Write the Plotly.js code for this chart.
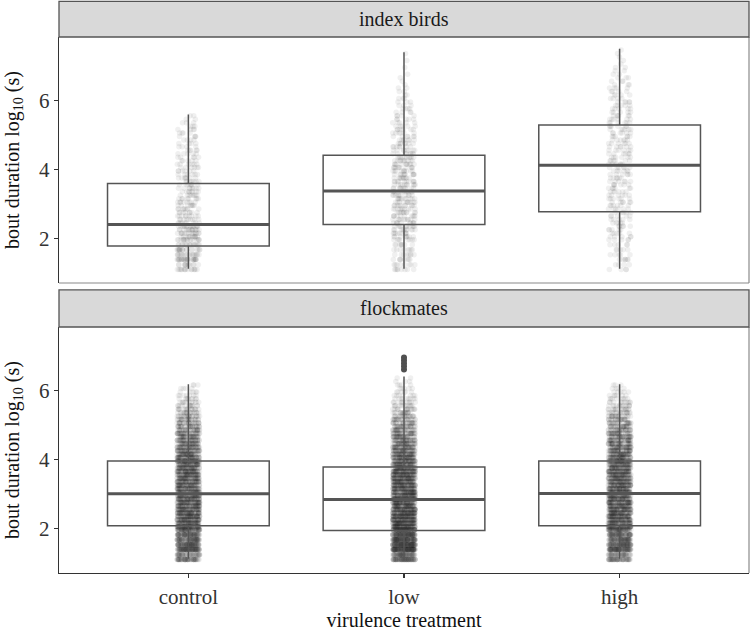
<!DOCTYPE html>
<html>
<head>
<meta charset="utf-8">
<script src="https://cdn.plot.ly/plotly-3.0.1.min.js"></script>
<style>html,body{margin:0;padding:0;background:#fff;}#chart{width:750px;height:631px;}</style>
</head>
<body>
<div id="chart"></div>
<script>
// categories
const CATS = ['control', 'low', 'high'];
const PANELS = ['index birds', 'flockmates'];

// box statistics
const IDX_Q1  = [1.78, 2.40, 2.77];
const IDX_MED = [2.40, 3.37, 4.12];
const IDX_Q3  = [3.59, 4.41, 5.28];
const IDX_LO  = [1.12, 1.12, 1.12];
const IDX_HI  = [5.59, 7.39, 7.49];

const FLK_Q1  = [2.08, 1.94, 2.08];
const FLK_MED = [3.00, 2.84, 3.01];
const FLK_Q3  = [3.95, 3.78, 3.95];
const FLK_LO  = [1.12, 1.12, 1.12];
const FLK_HI  = [6.17, 6.40, 6.17];

const FLK_LOW_OUTLIERS = [6.60, 6.69, 6.78, 6.87, 6.95];

// value levels of the raw observations and estimated counts at each level
const LEVELS = [1.10, 1.24, 1.39, 1.53, 1.67, 1.82, 1.96, 2.05, 2.15, 2.25,
                2.35, 2.45, 2.55, 2.65, 2.75, 2.85, 2.95, 3.05, 3.15, 3.25,
                3.35, 3.45, 3.55, 3.65, 3.75, 3.85, 3.95, 4.05, 4.15, 4.25,
                4.35, 4.45, 4.55, 4.65, 4.75, 4.85, 4.95, 5.05, 5.15, 5.25,
                5.35, 5.45, 5.55, 5.65, 5.75, 5.85, 5.95, 6.05, 6.15, 6.25,
                6.35, 6.45, 6.55, 6.65, 6.75, 6.85, 6.95, 7.05, 7.15, 7.25,
                7.35, 7.45];

const IDX_CONTROL_N = [15,12,25,18,18,16,16,12,14,14,
                       14,9,9,9,8,8,8,8,8,8,
                       8,8,7,7,7,6,6,6,6,5,
                       5,5,5,4,4,4,4,4,4,3,
                       3,2,2,0,0,0,0,0,0,0,
                       0,0,0,0,0,0,0,0,0,0,
                       0,0];
const IDX_LOW_N = [8,8,8,8,8,8,8,8,9,10,
                   10,10,10,10,10,10,10,10,10,10,
                   10,10,10,10,10,10,10,10,10,10,
                   10,8,8,7,7,7,6,6,6,5,
                   5,5,4,4,4,3,3,3,2,2,
                   2,1,1,1,1,0,1,0,1,0,
                   1,0];
const IDX_HIGH_N = [4,4,6,5,5,5,5,5,5,5,
                    5,5,5,5,5,6,6,6,6,6,
                    6,6,6,6,6,6,6,6,6,6,
                    6,6,6,6,6,6,6,6,6,6,
                    6,6,6,5,5,5,5,4,4,4,
                    4,3,3,3,2,2,2,1,1,1,
                    1,1];
const FLK_CONTROL_N = [60,50,100,90,80,80,75,65,68,68,
                       67,67,66,66,66,66,66,60,60,60,
                       60,60,60,60,60,60,60,55,52,50,
                       48,45,42,40,37,34,31,28,25,22,
                       19,16,13,11,9,7,5,4,3,0,
                       0,0,0,0,0,0,0,0,0,0,
                       0,0];
const FLK_LOW_N = [80,70,140,130,120,110,100,85,85,80,
                   80,78,76,74,72,70,70,70,70,70,
                   70,70,70,70,70,62,60,57,54,51,
                   48,45,42,39,36,33,30,27,24,21,
                   18,15,13,11,9,7,6,5,4,3,
                   2,0,0,0,0,0,0,0,0,0,
                   0,0];
const FLK_HIGH_N = [55,48,95,88,80,78,74,66,66,66,
                    66,66,66,65,65,65,64,62,62,61,
                    61,60,60,60,59,59,58,54,51,49,
                    47,44,41,39,36,33,30,27,24,21,
                    18,15,13,10,8,6,5,4,3,0,
                    0,0,0,0,0,0,0,0,0,0,
                    0,0];

// expand (level, count) tables into observations
function expand(cat, counts, xs, ys) {
  for (let i = 0; i < LEVELS.length; i++) {
    for (let k = 0; k < counts[i]; k++) { xs.push(cat); ys.push(LEVELS[i]); }
  }
}

const idxX = [], idxY = [], flkX = [], flkY = [];
expand(CATS[0], IDX_CONTROL_N, idxX, idxY);
expand(CATS[1], IDX_LOW_N, idxX, idxY);
expand(CATS[2], IDX_HIGH_N, idxX, idxY);
expand(CATS[0], FLK_CONTROL_N, flkX, flkY);
expand(CATS[1], FLK_LOW_N, flkX, flkY);
expand(CATS[2], FLK_HIGH_N, flkX, flkY);

const PT_COLOR = 'rgba(60,60,60,0.075)';
const BOX_COLOR = '#555555';

function pointsTrace(xa, ya, xs, ys) {
  return {type: 'box', xaxis: xa, yaxis: ya, x: xs, y: ys,
    boxpoints: 'all', jitter: 1, pointpos: 0, width: 0.105,
    fillcolor: 'rgba(0,0,0,0)', line: {width: 0, color: 'rgba(0,0,0,0)'},
    marker: {color: PT_COLOR, size: 5.5, line: {width: 0}},
    hoverinfo: 'skip', showlegend: false};
}
function boxTrace(xa, ya, q1, med, q3, lo, hi, lw) {
  return {type: 'box', xaxis: xa, yaxis: ya, x: CATS,
    q1: q1, median: med, q3: q3, lowerfence: lo, upperfence: hi,
    width: 0.75, whiskerwidth: 0, boxpoints: false,
    fillcolor: 'rgba(0,0,0,0)', line: {color: BOX_COLOR, width: lw},
    hoverinfo: 'skip', showlegend: false};
}

const data = [
  pointsTrace('x2', 'y2', idxX, idxY),
  pointsTrace('x', 'y', flkX, flkY),
  boxTrace('x2', 'y2', IDX_Q1, IDX_MED, IDX_Q3, IDX_LO, IDX_HI, 1.5),
  boxTrace('x', 'y', FLK_Q1, FLK_MED, FLK_Q3, FLK_LO, FLK_HI, 1.5),
  boxTrace('x2', 'y2', IDX_MED, IDX_MED, IDX_MED, IDX_MED, IDX_MED, 3),
  boxTrace('x', 'y', FLK_MED, FLK_MED, FLK_MED, FLK_MED, FLK_MED, 3),
  {type: 'scatter', mode: 'markers', xaxis: 'x', yaxis: 'y',
   x: FLK_LOW_OUTLIERS.map(() => CATS[1]), y: FLK_LOW_OUTLIERS,
   marker: {color: '#505050', size: 6}, hoverinfo: 'skip', showlegend: false}
];

const FONT = 'Liberation Serif, Times New Roman, serif';
const yTitle = 'bout duration log<sub>10</sub> (s)';
function yAxis(domain, anchor) {
  return {domain: domain, anchor: anchor, range: [0.71, 7.83], tickvals: [2, 4, 6],
    ticks: 'outside', ticklen: 4, tickwidth: 1.2, tickcolor: '#333',
    showline: true, linecolor: '#333', linewidth: 1.3,
    showgrid: false, zeroline: false,
    tickfont: {family: FONT, size: 21, color: '#333'},
    title: {text: yTitle, font: {family: FONT, size: 20, color: '#111'}, standoff: 14}};
}

const TOP_DOM = [0.5070, 0.9371];
const BOT_DOM = [0, 0.4301];
const STRIP_TOP = [0.9371, 0.9995];
const STRIP_BOT = [0.4301, 0.4948];

const layout = {
  width: 750, height: 631,
  margin: {l: 59, r: 1, t: 1, b: 58},
  paper_bgcolor: '#ffffff', plot_bgcolor: '#ffffff',
  showlegend: false, boxmode: 'overlay',
  font: {family: FONT, size: 20, color: '#111'},
  xaxis: {domain: [0, 1], anchor: 'y', type: 'category',
    categoryorder: 'array', categoryarray: CATS, range: [-0.6, 2.6],
    showline: true, linecolor: '#333', linewidth: 1.3,
    ticks: 'outside', ticklen: 4, tickwidth: 1.2, tickcolor: '#333',
    showgrid: false, zeroline: false,
    tickfont: {family: FONT, size: 21, color: '#333'},
    title: {text: 'virulence treatment', font: {family: FONT, size: 20, color: '#111'}, standoff: 8}},
  xaxis2: {domain: [0, 1], anchor: 'y2', type: 'category', matches: 'x',
    categoryorder: 'array', categoryarray: CATS, range: [-0.6, 2.6],
    showticklabels: false, ticks: '', showline: false, showgrid: false, zeroline: false},
  yaxis: yAxis(BOT_DOM, 'x'),
  yaxis2: yAxis(TOP_DOM, 'x2'),
  shapes: [
    {type: 'line', xref: 'paper', yref: 'paper', x0: 1, x1: 1, y0: TOP_DOM[0], y1: TOP_DOM[1], line: {color: '#8a8a8a', width: 1.2}},
    {type: 'line', xref: 'paper', yref: 'paper', x0: 0, x1: 1, y0: TOP_DOM[0], y1: TOP_DOM[0], line: {color: '#8a8a8a', width: 1.2}},
    {type: 'line', xref: 'paper', yref: 'paper', x0: 1, x1: 1, y0: BOT_DOM[0], y1: BOT_DOM[1], line: {color: '#8a8a8a', width: 1.2}},
    {type: 'rect', xref: 'paper', yref: 'paper', x0: 0, x1: 1, y0: STRIP_TOP[0], y1: STRIP_TOP[1], fillcolor: '#d9d9d9', line: {color: '#555', width: 1.3}},
    {type: 'rect', xref: 'paper', yref: 'paper', x0: 0, x1: 1, y0: STRIP_BOT[0], y1: STRIP_BOT[1], fillcolor: '#d9d9d9', line: {color: '#555', width: 1.3}}
  ],
  annotations: [
    {text: PANELS[0], xref: 'paper', yref: 'paper', x: 0.5, y: (STRIP_TOP[0] + STRIP_TOP[1]) / 2, showarrow: false, xanchor: 'center', yanchor: 'middle', font: {family: FONT, size: 20, color: '#1a1a1a'}},
    {text: PANELS[1], xref: 'paper', yref: 'paper', x: 0.5, y: (STRIP_BOT[0] + STRIP_BOT[1]) / 2, showarrow: false, xanchor: 'center', yanchor: 'middle', font: {family: FONT, size: 20, color: '#1a1a1a'}}
  ]
};

Plotly.newPlot('chart', data, layout, {displayModeBar: false, staticPlot: true});
</script>
</body>
</html>
